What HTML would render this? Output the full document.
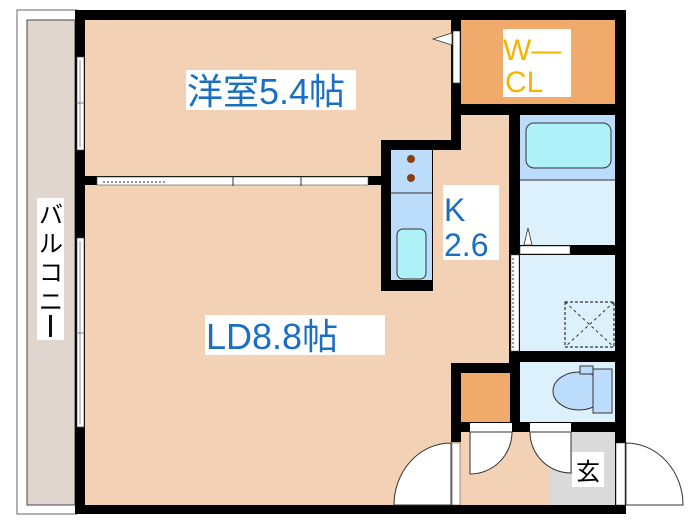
<!DOCTYPE html>
<html><head><meta charset="utf-8"><style>
html,body{margin:0;padding:0;background:#fff;width:700px;height:525px;overflow:hidden}
svg text{font-family:"Liberation Sans","Noto Sans CJK JP",sans-serif}
</style></head><body>
<svg width="700" height="525" viewBox="0 0 700 525" xmlns="http://www.w3.org/2000/svg">
<!-- balcony -->
<rect x="17" y="10" width="60" height="504" fill="#fff" stroke="#666" stroke-width="1"/>
<rect x="27" y="20" width="48" height="485" fill="#e0d6cf" stroke="#444" stroke-width="1"/>
<rect x="37" y="198" width="27" height="142" fill="#fff"/>
<text x="51" y="223" font-size="24" text-anchor="middle">バ</text>
<text x="51" y="252" font-size="24" text-anchor="middle">ル</text>
<text x="51" y="281" font-size="24" text-anchor="middle">コ</text>
<text x="51" y="310" font-size="24" text-anchor="middle">ニ</text>
<rect x="49" y="315" width="3" height="22" fill="#111"/>
<!-- outer black walls -->
<rect x="75" y="10" width="551" height="504" fill="#000"/>
<!-- rooms -->
<rect x="85" y="20" width="366" height="156" fill="#f2d1b4"/>
<rect x="391" y="150" width="118" height="40" fill="#f2d1b4"/>
<rect x="461" y="115" width="48" height="80" fill="#f2d1b4"/>
<rect x="381" y="140" width="80" height="10" fill="#000"/>
<rect x="451" y="20" width="10" height="130" fill="#000"/>
<!-- WCL -->
<rect x="461" y="20" width="154" height="84" fill="#f0aa6c"/>
<rect x="503" y="29" width="68" height="68" fill="#fff"/>
<text x="503" y="60" font-size="30" fill="#f5b400">W—</text>
<text x="505" y="92" font-size="30" fill="#f5b400">CL</text>
<rect x="453" y="31" width="7" height="52" fill="#fff" stroke="#333" stroke-width="0.6"/>
<polygon points="452,33 433,39 452,45" fill="#fff" stroke="#333" stroke-width="0.8"/>
<!-- K/LD -->
<rect x="461" y="185" width="48" height="100" fill="#f2d1b4"/>
<rect x="85" y="190" width="424" height="315" fill="#f2d1b4"/>
<rect x="85" y="185" width="296" height="10" fill="#f2d1b4"/>
<rect x="381" y="150" width="52" height="141" fill="#000"/>
<rect x="391" y="150" width="41" height="130" fill="#bcdcfb"/>
<line x1="391" y1="193" x2="432" y2="193" stroke="#333"/>
<circle cx="411" cy="159" r="4" fill="#8b3f10"/>
<circle cx="411" cy="178" r="4" fill="#8b3f10"/>
<rect x="397" y="229" width="29" height="50" rx="6" fill="#aef1f8" stroke="#333"/>
<rect x="443" y="185" width="56" height="75" fill="#fff"/>
<text x="444" y="221" font-size="32" fill="#1a6fc3">K</text>
<text x="444" y="256" font-size="32" fill="#1a6fc3">2.6</text>
<!-- divider 洋室/LD -->
<rect x="85" y="176" width="296" height="9" fill="#000"/>
<rect x="97" y="177" width="271" height="8" fill="#fff" stroke="#555" stroke-width="0.6"/>
<line x1="103" y1="182" x2="165" y2="182" stroke="#555" stroke-dasharray="2,2" stroke-width="1.2"/>
<line x1="233" y1="176" x2="233" y2="186" stroke="#333"/>
<line x1="301" y1="176" x2="301" y2="186" stroke="#333"/>
<!-- bath -->
<rect x="520" y="115" width="95" height="130" fill="#ddf1fd"/>
<rect x="520" y="115" width="95" height="65" fill="#bcdcfb"/>
<line x1="520" y1="180" x2="615" y2="180" stroke="#333"/>
<rect x="526" y="123" width="85" height="45" rx="8" fill="#aef1f8" stroke="#333"/>
<rect x="520" y="245" width="95" height="10" fill="#000"/>
<rect x="520" y="246" width="50" height="8" fill="#fff" stroke="#333" stroke-width="0.5"/>
<polygon points="524,245 528,228 532,245" fill="#fff" stroke="#333" stroke-width="0.8"/>
<!-- washroom -->
<rect x="520" y="255" width="95" height="96" fill="#ddf1fd"/>
<rect x="511" y="255" width="8" height="96" fill="#fff" stroke="#555" stroke-width="0.5"/>
<line x1="513" y1="258" x2="513" y2="348" stroke="#333" stroke-dasharray="2,2"/>
<rect x="565" y="302" width="49" height="45" fill="none" stroke="#333" stroke-dasharray="3,2" stroke-width="1.2"/>
<line x1="565" y1="302" x2="614" y2="347" stroke="#333" stroke-dasharray="3,3"/>
<line x1="614" y1="302" x2="565" y2="347" stroke="#333" stroke-dasharray="3,3"/>
<!-- toilet -->
<rect x="520" y="362" width="95" height="60" fill="#ddf1fd"/>
<ellipse cx="579" cy="391" rx="26" ry="19" fill="#bcdcfb" stroke="#333"/>
<rect x="593" y="369" width="19" height="44" fill="#bcdcfb" stroke="#333"/>
<rect x="580" y="366" width="13" height="8" fill="#bcdcfb" stroke="#333"/>
<!-- closet block -->
<rect x="451" y="363" width="69" height="79" fill="#000"/>
<rect x="461" y="373" width="49" height="49" fill="#f0aa6c"/>
<!-- entrance -->
<rect x="461" y="432" width="89" height="73" fill="#f2d1b4"/>
<rect x="550" y="432" width="65" height="73" fill="#dadada"/>
<rect x="470" y="423" width="42" height="9" fill="#fff"/>
<rect x="530" y="423" width="41" height="9" fill="#fff"/>
<path d="M470,432 L512,432 A42,42 0 0 1 470,474 Z" fill="#fff" stroke="#333"/>
<path d="M571,432 L530,432 A41,41 0 0 0 571,473 Z" fill="#fff" stroke="#333"/>
<rect x="572" y="452" width="32" height="35" fill="#fff"/>
<text x="588" y="480" font-size="24" text-anchor="middle">玄</text>
<!-- left entrance door -->
<rect x="452" y="443" width="8" height="62" fill="#fff" stroke="#333" stroke-width="0.5"/>
<path d="M451,505 L394,505 A57,62 0 0 1 451,443 Z" fill="#fff" stroke="#333"/>
<!-- exterior door -->
<rect x="616" y="443" width="9" height="62" fill="#fff" stroke="#333" stroke-width="0.5"/>
<path d="M626,505 L683,505 A57,62 0 0 0 626,443 Z" fill="#fff" stroke="#333"/>
<!-- left windows -->
<rect x="77" y="57" width="7" height="93" fill="#fff" stroke="#444" stroke-width="0.6"/>
<line x1="80" y1="60" x2="80" y2="147" stroke="#444" stroke-width="0.6"/>
<line x1="75" y1="103" x2="85" y2="103" stroke="#444" stroke-width="0.6"/>
<rect x="77" y="238" width="7" height="189" fill="#fff" stroke="#444" stroke-width="0.6"/>
<line x1="80" y1="241" x2="80" y2="424" stroke="#444" stroke-width="0.6"/>
<line x1="75" y1="333" x2="85" y2="333" stroke="#444" stroke-width="0.6"/>
<!-- labels -->
<rect x="186" y="70" width="170" height="40" fill="#fff"/>
<text x="187" y="104" font-size="36" fill="#1a6fc3">洋室5.4帖</text>
<rect x="205" y="315" width="180" height="40" fill="#fff"/>
<text x="206" y="349" font-size="36" fill="#1a6fc3">LD8.8帖</text>
</svg>
</body></html>
